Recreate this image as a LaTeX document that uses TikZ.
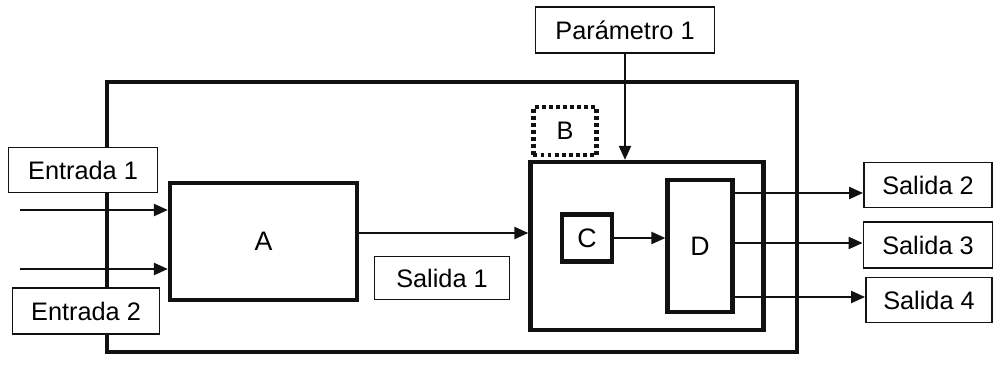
\documentclass[tikz,border=0pt]{standalone}
\usepackage{fontspec}
\setmainfont{Liberation Sans}
\usetikzlibrary{arrows.meta,positioning}
\definecolor{Ink}{HTML}{111111}

\begin{document}
\begin{tikzpicture}[x=0.025cm,y=-0.025cm,
    label/.style={draw=Ink,line width=1.3pt,fill=white,inner sep=0pt,
      font=\fontsize{18}{21}\selectfont},
    block/.style={draw=Ink,line width=3pt,inner sep=0pt,
      font=\fontsize{19}{22}\selectfont},
    hidden/.style={draw=Ink,line width=3pt,dash pattern=on 2.8pt off 2.2pt,
      inner sep=0pt,font=\fontsize{18}{21}\selectfont},
    arrow/.style={-{Triangle[length=0.35cm,width=0.3cm]},line width=1.6pt,draw=Ink}
  ]
    \useasboundingbox (0,0) rectangle (995,380);
    % outer frame
    \draw[Ink,line width=3pt] (107,82) rectangle (797,352);
    \node[label,minimum width=3.725cm,minimum height=1.125cm] (ent1) at (83,170) {Entrada 1};
    \node[label,minimum width=3.675cm,minimum height=1.15cm] (ent2) at (86,311) {Entrada 2};
    \node[block,minimum width=4.675cm,minimum height=2.925cm] (blockA) at (263.5,241.5) {A};
    \node[label,minimum width=3.375cm,minimum height=1.075cm] (sal1) at (442,278) {Salida 1};
    \node[label,minimum width=4.475cm,minimum height=1.15cm] (par1) at (625,30) {Parámetro 1};
    \node[hidden,minimum width=1.575cm,minimum height=1.2cm] (blockB) at (565,131) {B};
    \node[block,minimum width=5.825cm,minimum height=4.2cm] (inner) at (647,246) {};
    \node[block,minimum width=1.25cm,minimum height=1.175cm] (blockC) at (587,238) {C};
    \node[block,minimum width=1.625cm,minimum height=3.3cm] (blockD) at (700,246) {D};
    \node[label,minimum width=3.2cm,minimum height=1.125cm] (sal2) at (928,185) {Salida 2};
    \node[label,minimum width=3.225cm,minimum height=1.15cm] (sal3) at (928,245) {Salida 3};
    \node[label,minimum width=3.15cm,minimum height=1.125cm] (sal4) at (929,300) {Salida 4};
    % connectors
    \coordinate (in1) at (20,210);
    \coordinate (in2) at (20,269);
    \coordinate (outA) at (blockA.east |- 0,233);
    \coordinate (out2) at (blockD.east |- 0,193);
    \coordinate (out3) at (blockD.east |- 0,243);
    \coordinate (out4) at (blockD.east |- 0,297);
    \draw[arrow] (in1) -- (in1 -| blockA.west);
    \draw[arrow] (in2) -- (in2 -| blockA.west);
    \draw[arrow] (outA) -- (outA -| inner.west);
    \draw[arrow] (par1.south) -- (par1.south |- inner.north);
    \draw[arrow] (blockC.east) -- (blockC.east -| blockD.west);
    \draw[arrow] (out2) -- (out2 -| sal2.west);
    \draw[arrow] (out3) -- (out3 -| sal3.west);
    \draw[arrow] (out4) -- (out4 -| sal4.west);
\end{tikzpicture}
\end{document}
